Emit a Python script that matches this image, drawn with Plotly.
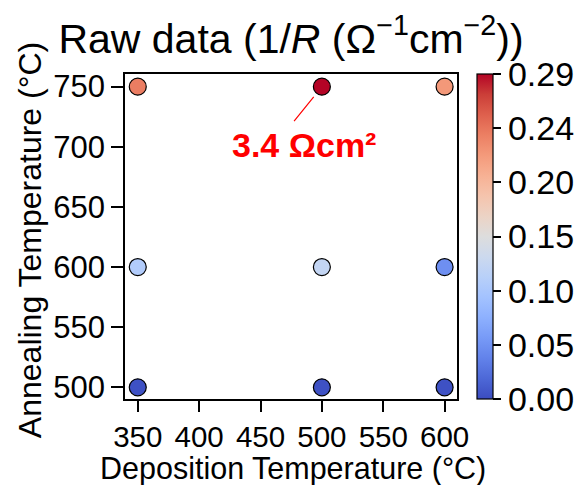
import plotly.graph_objects as go
import numpy as np

# Grid of deposition / annealing temperatures (°C)
deposition_temp = [350, 500, 600, 350, 500, 600, 350, 500, 600]
annealing_temp = [750, 750, 750, 600, 600, 600, 500, 500, 500]
# Conductance 1/R (Ω^-1 cm^-2)
inv_resistance = [0.240, 0.294, 0.222, 0.105, 0.120, 0.047, 0.003, 0.003, 0.003]

x_ticks = [350, 400, 450, 500, 550, 600]
y_ticks = [500, 550, 600, 650, 700, 750]
c_min, c_max = 0.0, 0.294
cbar_vals = list(np.linspace(c_min, c_max, 7))
cbar_text = ["0.00", "0.05", "0.10", "0.15", "0.20", "0.24", "0.29"]

title_text = "Raw data (1/<i>R</i> (Ω<sup>−1</sup>cm<sup>−2</sup>))"
x_title = "Deposition Temperature (°C)"
y_title = "Annealing Temperature (°C)"
best_label = "<b>3.4 Ωcm²</b>"

# matplotlib-style "coolwarm" diverging map
coolwarm = [
    [0.0, "rgb(59,76,192)"], [0.0625, "rgb(77,104,215)"], [0.125, "rgb(98,130,234)"],
    [0.1875, "rgb(119,154,247)"], [0.25, "rgb(141,176,254)"], [0.3125, "rgb(163,194,255)"],
    [0.375, "rgb(184,208,249)"], [0.4375, "rgb(204,217,238)"], [0.5, "rgb(221,221,221)"],
    [0.5625, "rgb(236,211,197)"], [0.625, "rgb(245,196,173)"], [0.6875, "rgb(247,177,148)"],
    [0.75, "rgb(244,154,123)"], [0.8125, "rgb(236,127,99)"], [0.875, "rgb(222,96,77)"],
    [0.9375, "rgb(203,62,56)"], [1.0, "rgb(180,4,38)"],
]

FONT = "Arial, Liberation Sans, sans-serif"

fig = go.Figure()
fig.add_trace(go.Scatter(
    x=deposition_temp, y=annealing_temp, mode="markers",
    marker=dict(
        size=17, color=inv_resistance, colorscale=coolwarm, cmin=c_min, cmax=c_max,
        line=dict(color="black", width=1.2),
        colorbar=dict(
            thickness=16, len=1.0, lenmode="fraction", y=0.5, yanchor="middle",
            x=1.06, xanchor="left", xref="paper", xpad=0, ypad=0,
            outlinecolor="black", outlinewidth=1.2,
            tickmode="array", tickvals=cbar_vals, ticktext=cbar_text,
            ticks="outside", ticklen=8, tickwidth=1.5, tickcolor="black",
            tickfont=dict(size=34, color="black", family=FONT),
        ),
    ),
    showlegend=False,
))

# Leader line and label for the best cell
fig.add_annotation(x=500, y=750, text="", showarrow=True, arrowhead=0,
                   arrowwidth=1.2, arrowcolor="red", ax=-29, ay=36, standoff=13)
fig.add_annotation(x=500, y=750, text=best_label, showarrow=False,
                   xshift=-18, yshift=-58,
                   font=dict(size=34, color="red", family=FONT))

# Axis titles
fig.add_annotation(text=x_title, xref="paper", yref="paper", x=0.505, y=-0.213,
                   xanchor="center", yanchor="middle", showarrow=False,
                   font=dict(size=30.5, color="black", family=FONT))
fig.add_annotation(text=y_title, xref="paper", yref="paper", x=-0.288, y=0.49,
                   xanchor="center", yanchor="middle", showarrow=False, textangle=-90,
                   font=dict(size=32, color="black", family=FONT))

axis_common = dict(
    showgrid=False, zeroline=False, showline=True, linecolor="black", linewidth=1.5,
    mirror=True, ticks="outside", tickwidth=1.5, tickcolor="black",
    automargin=False,
)

fig.update_layout(
    width=577, height=485,
    margin=dict(l=125, r=120, t=74, b=86, autoexpand=False),
    paper_bgcolor="white", plot_bgcolor="white",
    font=dict(family=FONT, color="black"),
    title=dict(text=title_text,
               x=0.5, xref="paper", xanchor="center",
               y=0.921, yref="container", yanchor="middle",
               font=dict(size=41, color="black", family=FONT)),
    xaxis=dict(range=[339.6, 610.1], tickvals=x_ticks, ticklen=11,
               tickfont=dict(size=29.5, color="black", family=FONT),
               **axis_common),
    yaxis=dict(range=[490.3, 760.5], tickvals=y_ticks, ticklen=12,
               tickfont=dict(size=31, color="black", family=FONT),
               **axis_common),
)

fig.write_html("out.html")
